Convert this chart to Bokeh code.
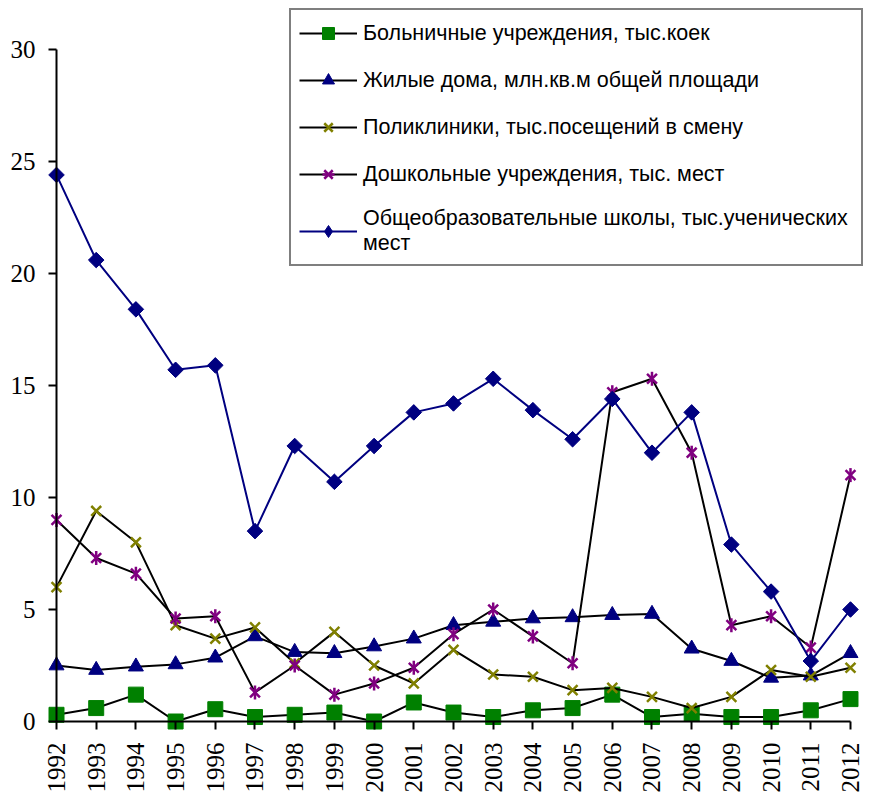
import math
from bokeh.plotting import figure
from bokeh.models import FixedTicker, Legend, LegendItem, LinearAxis, Range1d
from bokeh.embed import file_html
from bokeh.resources import INLINE

years = list(range(1992, 2013))
hospitals = [0.3, 0.6, 1.2, 0.0, 0.55, 0.2, 0.3, 0.4, 0.0, 0.85, 0.4, 0.2, 0.5, 0.6, 1.2, 0.2, 0.35, 0.2, 0.2, 0.5, 1.0]
housing = [2.5, 2.3, 2.45, 2.55, 2.85, 3.8, 3.1, 3.05, 3.35, 3.7, 4.3, 4.45, 4.6, 4.65, 4.75, 4.8, 3.25, 2.7, 1.95, 2.05, 3.05]
clinics = [6.0, 9.4, 8.0, 4.3, 3.7, 4.2, 2.6, 4.0, 2.5, 1.7, 3.2, 2.1, 2.0, 1.4, 1.5, 1.1, 0.6, 1.1, 2.3, 2.0, 2.4]
preschool = [9.0, 7.3, 6.6, 4.6, 4.7, 1.3, 2.5, 1.2, 1.7, 2.4, 3.9, 5.0, 3.8, 2.6, 14.7, 15.3, 12.0, 4.3, 4.7, 3.3, 11.0]
schools = [24.4, 20.6, 18.4, 15.7, 15.9, 8.5, 12.3, 10.7, 12.3, 13.8, 14.2, 15.3, 13.9, 12.6, 14.4, 12.0, 13.8, 7.9, 5.8, 2.7, 5.0]
y_ticks = [0, 5, 10, 15, 20, 25, 30]
labels = [
    "Больничные учреждения, тыс.коек",
    "Жилые дома, млн.кв.м общей площади",
    "Поликлиники, тыс.посещений в смену",
    "Дошкольные учреждения, тыс. мест",
    "Общеобразовательные школы, тыс.ученических\nмест",
]

p = figure(width=864, height=796, x_range=Range1d(1991.748, 2012.353), y_range=Range1d(-0.446, 31.875),
           x_axis_type=None, y_axis_type=None, output_backend="svg", toolbar_location=None,
           min_border_left=46, min_border_right=0, min_border_top=7, min_border_bottom=65)
p.outline_line_color = None
p.background_fill_color = "white"
p.border_fill_color = "white"

# label-only axes at frame edges
ylab = LinearAxis(ticker=FixedTicker(ticks=y_ticks), major_label_standoff=11)
xlab = LinearAxis(ticker=FixedTicker(ticks=years), major_label_orientation=math.pi / 2,
                  major_label_standoff=11)
for ax in (ylab, xlab):
    ax.axis_line_color = None
    ax.major_tick_line_color = None
    ax.minor_tick_line_color = None
    ax.major_tick_out = 0
    ax.major_tick_in = 0
    ax.minor_tick_out = 0
    ax.minor_tick_in = 0
    ax.major_label_text_font = "Liberation Serif"
    ax.major_label_text_font_size = "25px"
    ax.major_label_text_color = "black"
p.add_layout(ylab, "left")
p.add_layout(xlab, "below")

# line + tick axes fixed at x=1992 / y=0
yax = LinearAxis(fixed_location=1992, bounds=(0, 30), ticker=FixedTicker(ticks=y_ticks))
xax = LinearAxis(fixed_location=0, bounds=(1992, 2012), ticker=FixedTicker(ticks=years))
for ax in (yax, xax):
    ax.axis_line_width = 2
    ax.axis_line_color = "black"
    ax.major_tick_line_width = 2
    ax.major_tick_line_color = "black"
    ax.major_tick_out = 8
    ax.major_tick_in = 0
    ax.minor_tick_out = 0
    ax.minor_tick_in = 0
    ax.major_label_text_alpha = 0
    ax.major_label_text_font_size = "1px"
p.add_layout(yax, "left")
p.add_layout(xax, "below")

def series(vals, color, line_color, markers):
    rs = [p.line(years, vals, line_color=line_color, line_width=2)]
    for m in markers:
        rs.append(p.scatter(years, vals, fill_color=color, line_color=color, **m))
    return rs

r1 = series(hospitals, "#008000", "black", [dict(marker="square", size=15)])
r2 = series(housing, "#000080", "black", [dict(marker="triangle", size=15)])
r3 = series(clinics, "#808000", "black", [dict(marker="x", size=14, line_width=2.5)])
r4 = series(preschool, "#800080", "black", [dict(marker="x", size=14, line_width=2.5),
                                            dict(marker="dash", size=14, angle=math.pi / 2, line_width=2.5)])
r5 = series(schools, "#000080", "#000080", [dict(marker="diamond", size=14),
                                            dict(marker="square", size=11, angle=math.pi / 4)])

items = [LegendItem(label=lab, renderers=rs) for lab, rs in
         zip(labels, [r1, r2, r3, r4, r5[:2]])]

legend = Legend(items=items, location="top_right", margin=1, padding=8,
                border_line_color="black", border_line_width=2,
                label_text_font="Liberation Sans", label_text_font_size="21.5px",
                label_text_color="black", glyph_width=58, glyph_height=30,
                label_height=24, label_width=490, spacing=17, label_standoff=6,
                background_fill_color="white", background_fill_alpha=1)
p.add_layout(legend)

open("out.html", "w").write(file_html(p, INLINE))
